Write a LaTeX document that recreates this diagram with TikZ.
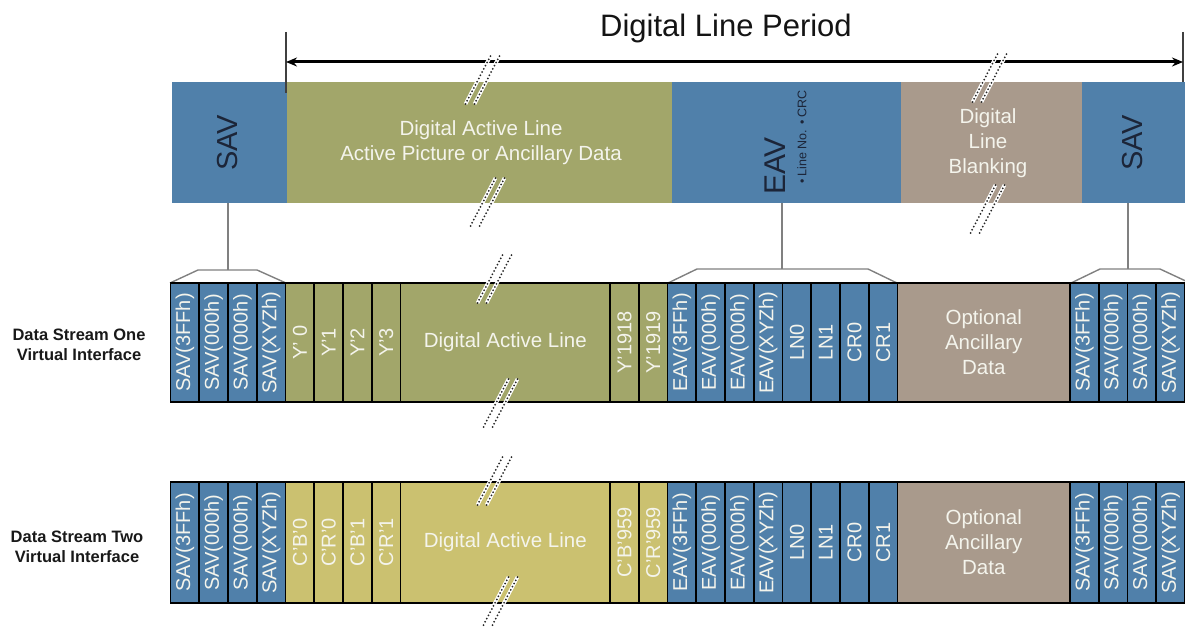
\documentclass[tikz,border=0pt]{standalone}
\usepackage{fontspec}
\setmainfont{Liberation Sans}
\usetikzlibrary{arrows.meta}
\definecolor{cblue}{HTML}{5080AA}
\definecolor{colive}{HTML}{A2A66A}
\definecolor{cyell}{HTML}{CBC170}
\definecolor{cbeige}{HTML}{A99A8C}
\definecolor{cdark}{HTML}{1C2538}
\definecolor{cgray}{HTML}{808080}
\definecolor{ctext}{HTML}{F4F4EC}
\tikzset{
  cell/.style={draw=black, line width=1.8pt, inner sep=0pt, rotate=90, text=ctext,
    font=\fontsize{20}{24}\selectfont, minimum height=28.75pt},
  bigblock/.style={draw=black, line width=1.8pt, inner sep=0pt, text=ctext, align=center,
    font=\fontsize{20.5}{25}\selectfont},
  topblock/.style={inner sep=0pt, minimum height=121pt},
  toplabel/.style={text=ctext, align=center, font=\fontsize{20.5}{25}\selectfont},
  conn/.style={draw=cgray, line width=1.4pt},
  sidelabel/.style={align=center, font=\bfseries\fontsize{16.5}{20}\selectfont, text=black!90},
}
\newcommand\cellrow[6]{%
  \foreach \lab [count=\i from 0] in {#6} {
    \node[cell, fill=#3, minimum width=#5] (#1\i) at ({#2+28.75*\i+14.375},#4) {\lab};
  }}
\newcommand\brkmark[2]{%
  \foreach \dx in {0,9} {
    \draw[white, line width=3.6pt] ({#1+\dx-12.5},{#2+24}) -- ({#1+\dx+12.5},{#2-24});
    \draw[black!85, line width=2pt, line cap=round, dash pattern=on 0pt off 3.6pt] ({#1+\dx-12.5},{#2+24}) -- ({#1+\dx+12.5},{#2-24});
  }}
\begin{document}
\begin{tikzpicture}[x=1pt,y=-1pt]
\useasboundingbox (0,0) rectangle (1185,626);
% title and arrow
\node[font=\fontsize{31}{36}\selectfont, text=black!92] (title) at (726,28) {Digital Line Period};
\coordinate (al) at (286,62);
\coordinate (ar) at (1183,62);
\draw[black!75, line width=1.6pt] (286,32) coordinate (vl1) -- (286,93) coordinate (vl2);
\draw[black!75, line width=1.6pt] (1183,32) coordinate (vr1) -- (1183,93) coordinate (vr2);
\draw[line width=3pt, {Stealth[length=11pt,width=9pt]}-{Stealth[length=11pt,width=9pt]}] (al) -- (ar);
% top bar
\node[topblock, fill=cblue, minimum width=115pt] (tsav) at (229.5,142.5) {};
\node[topblock, fill=colive, minimum width=385pt] (tdal) at (479.5,142.5) {};
\node[topblock, fill=cblue, minimum width=229pt] (teav) at (786.5,142.5) {};
\node[topblock, fill=cbeige, minimum width=181pt] (tblank) at (991.5,142.5) {};
\node[topblock, fill=cblue, minimum width=103pt] (tsav2) at (1133.5,142.5) {};
\draw[black!75, line width=1.6pt] (286,82) -- (286,93);
\node[rotate=90, text=cdark, font=\fontsize{29}{33}\selectfont] (tsavt) at (228,143) {SAV};
\node[rotate=90, text=cdark, font=\fontsize{29}{33}\selectfont] (tsav2t) at (1132,143) {SAV};
\node[toplabel] (tdalt) at (481,143) {Digital Active Line\\Active Picture or Ancillary Data};
\node[rotate=90, text=cdark, font=\fontsize{30}{34}\selectfont] (teavt) at (775,166) {EAV};
\node[rotate=90, text=cdark, font=\fontsize{12.5}{14}\selectfont] (teavs) at (802,137) {• Line No. • CRC};
\node[toplabel] (tblankt) at (988,143) {Digital\\Line\\Blanking};
% connectors to row 1
\coordinate (s1) at (228,270); \coordinate (e1) at (782,269); \coordinate (s2) at (1128,269);
\draw[conn] (tsav.south -| s1) -- (s1);
\draw[conn] (teav.south -| e1) -- (e1);
\draw[conn] (tsav2.south -| s2) -- (s2);
\draw[conn] (170,283) -- (198,270) -- (257,270) -- (286,283);
\draw[conn] (668,283) -- (697,269) -- (868,269) -- (897,283);
\draw[conn] (1071,283) -- (1100,269) -- (1160,269) -- (1190,283);
% row 1
\cellrow{ra}{170.5}{cblue}{342.5}{119pt}{SAV(3FFh),SAV(000h),SAV(000h),SAV(XYZh)}
\cellrow{rb}{285.5}{colive}{342.5}{119pt}{Y' 0,Y'1,Y'2,Y'3}
\node[bigblock, fill=colive, minimum width=209.5pt, minimum height=119pt] (rdal) at (505.25,342.5) {Digital Active Line};
\cellrow{rd}{610}{colive}{342.5}{119pt}{Y'1918,Y'1919}
\cellrow{re}{667.5}{cblue}{342.5}{119pt}{EAV(3FFh),EAV(000h),EAV(000h),EAV(XYZh),LN0,LN1,CR0,CR1}
\node[bigblock, fill=cbeige, minimum width=172.5pt, minimum height=119pt] (ropt) at (983.75,342.5) {Optional\\Ancillary\\Data};
\cellrow{rg}{1070}{cblue}{342.5}{119pt}{SAV(3FFh),SAV(000h),SAV(000h),SAV(XYZh)}
% row 2
\cellrow{sa}{170.5}{cblue}{542.5}{121pt}{SAV(3FFh),SAV(000h),SAV(000h),SAV(XYZh)}
\cellrow{sb}{285.5}{cyell}{542.5}{121pt}{C'B'0,C'R'0,C'B'1,C'R'1}
\node[bigblock, fill=cyell, minimum width=209.5pt, minimum height=121pt] (sdal) at (505.25,542.5) {Digital Active Line};
\cellrow{sd}{610}{cyell}{542.5}{121pt}{C'B'959,C'R'959}
\cellrow{se}{667.5}{cblue}{542.5}{121pt}{EAV(3FFh),EAV(000h),EAV(000h),EAV(XYZh),LN0,LN1,CR0,CR1}
\node[bigblock, fill=cbeige, minimum width=172.5pt, minimum height=121pt] (sopt) at (983.75,542.5) {Optional\\Ancillary\\Data};
\cellrow{sg}{1070}{cblue}{542.5}{121pt}{SAV(3FFh),SAV(000h),SAV(000h),SAV(XYZh)}
% side labels
\node[sidelabel] (l1) at (79,345) {Data Stream One\\Virtual Interface};
\node[sidelabel] (l2) at (77,547) {Data Stream Two\\Virtual Interface};
% break marks
\brkmark{478}{80}
\brkmark{483}{202}
\brkmark{985}{78}
\brkmark{983}{209}
\brkmark{490}{279}
\brkmark{496}{403}
\brkmark{490}{481}
\brkmark{496}{601}
\end{tikzpicture}
\end{document}
